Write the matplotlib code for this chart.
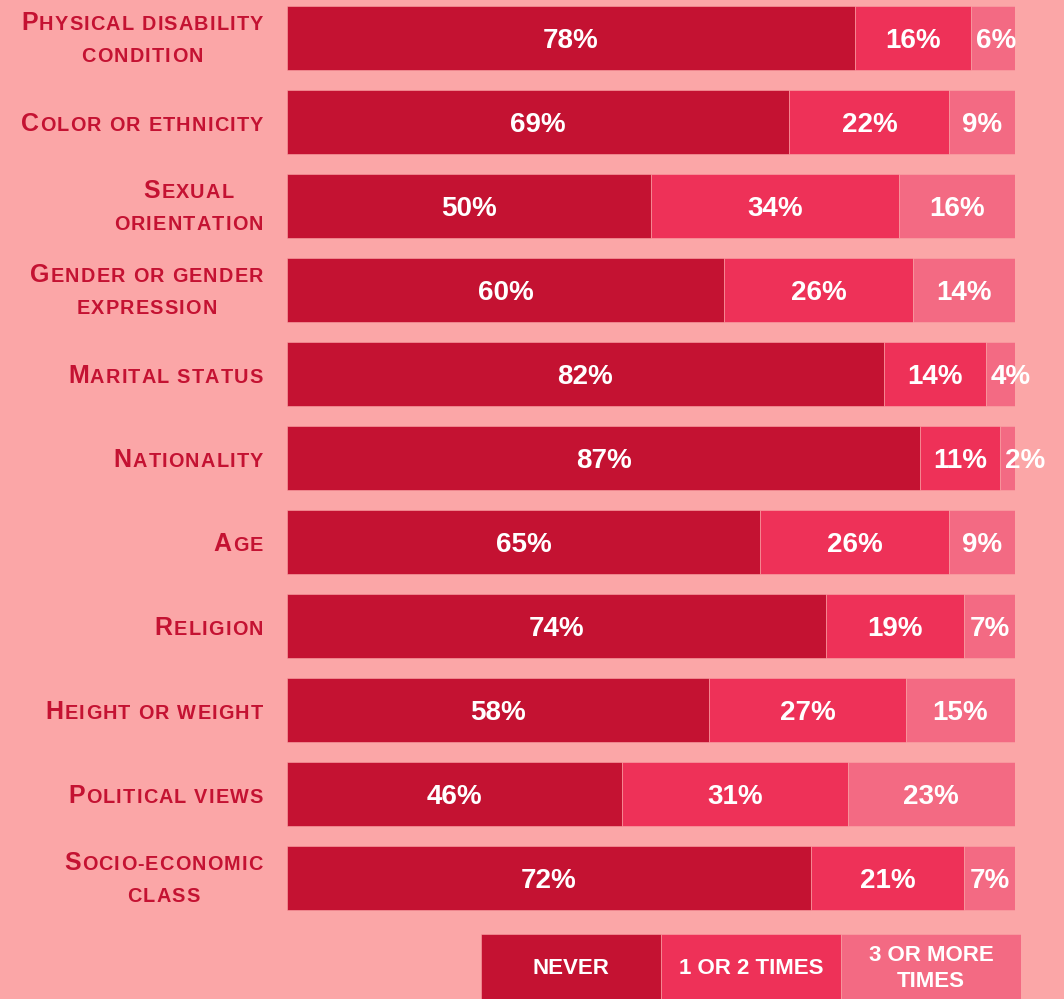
import matplotlib
matplotlib.use("Agg")
import matplotlib.pyplot as plt
import numpy as np

# datos
categorias = ["Physical disability\ncondition", "Color or ethnicity", "Sexual\norientation",
              "Gender or gender\nexpression", "Marital status", "Nationality", "Age",
              "Religion", "Height or weight", "Political views", "Socio-economic\nclass"]
nunca = [78, 69, 50, 60, 82, 87, 65, 74, 58, 46, 72]
una_dos = [16, 22, 34, 26, 14, 11, 26, 19, 27, 31, 21]
tres_mas = [6, 9, 16, 14, 4, 2, 9, 7, 15, 23, 7]
leyenda = ["NEVER", "1 OR 2 TIMES", "3 OR MORE\nTIMES"]

fondo = "#FBA6A7"
colores = ["#C41232", "#EE3158", "#F36A83"]
W, H = 1064, 999

plt.rcParams['font.family'] = ['Liberation Sans', 'DejaVu Sans']

fig = plt.figure(figsize=(W / 100, H / 100), dpi=100, facecolor=fondo)

# eje de barras: x 287..1015 px, y 0..916 px
ax = fig.add_axes([287 / W, (H - 916) / H, 728 / W, 916 / H])
ax.set_facecolor(fondo)
n = len(categorias)
y = np.arange(n)
izq = np.zeros(n)
base = 10.5 / 84  # desplazamiento de la linea base del texto
for serie, color in zip([nunca, una_dos, tres_mas], colores):
    vals = np.array(serie, dtype=float)
    ax.barh(y, vals, left=izq, height=64 / 84, color=color, edgecolor=fondo, linewidth=0.4)
    for i in range(n):
        v = vals[i]
        if v <= 6:
            ax.text(izq[i] + 0.6, y[i] + base, f"{int(v)}%", ha='left', va='baseline',
                    color='white', fontsize=20, fontweight='bold')
        else:
            ax.text(izq[i] + v / 2, y[i] + base, f"{int(v)}%", ha='center', va='baseline',
                    color='white', fontsize=20, fontweight='bold')
    izq += vals
ax.set_xlim(0, 100)
ax.set_ylim((916 - 38) / 84, -38 / 84)
ax.axis('off')

# etiquetas en versalitas simuladas, letra por letra con espaciado
renderer = fig.canvas.get_renderer()
color_txt = "#C41232"
big, small = 18, 14.3
track = 1.2
cache = {}


def ancho(c, size):
    if (c, size) not in cache:
        if c == " ":
            t = fig.text(0, 0, "a a", fontsize=size, fontweight='bold')
            t2 = fig.text(0, 0, "aa", fontsize=size, fontweight='bold')
            w = t.get_window_extent(renderer).width - t2.get_window_extent(renderer).width
            t2.remove()
        else:
            t = fig.text(0, 0, c, fontsize=size, fontweight='bold')
            w = t.get_window_extent(renderer).width
        t.remove()
        cache[(c, size)] = w
    return cache[(c, size)]


for i, cat in enumerate(categorias):
    lineas = cat.split("\n")
    segs = []
    for k, lin in enumerate(lineas):
        chars = [(c, small) for c in lin.upper()]
        if k == 0:
            chars[0] = (chars[0][0], big)
        segs.append(chars)
    anchos = [sum(ancho(c, s) for c, s in sg) + track * (len(sg) - 1) for sg in segs]
    bloque = max(anchos)
    xder = 263
    yc = 38 + 84 * i
    if len(lineas) == 1:
        bases = [yc + 9]
    else:
        bases = [yc - 8, yc + 23.5]
    for sg, w, b in zip(segs, anchos, bases):
        x = xder - bloque + (bloque - w) / 2
        for c, s in sg:
            if c != " ":
                fig.text(x / W, 1 - b / H, c, fontsize=s, fontweight='bold',
                         color=color_txt, ha='left', va='baseline')
            x += ancho(c, s) + track

# leyenda
axl = fig.add_axes([481 / W, 0, 540 / W, 65 / H])
axl.set_xlim(0, 3)
axl.set_ylim(0, 1)
axl.bar(np.arange(3) + 0.5, [1, 1, 1], width=1, color=colores, edgecolor=fondo, linewidth=0.4)
for j, lab in enumerate(leyenda):
    axl.text(j + 0.5, 0.47, lab, ha='center', va='center', color='white',
             fontsize=16, fontweight='bold', linespacing=1.3)
axl.axis('off')

fig.savefig("out.png", dpi=100, facecolor=fondo)
